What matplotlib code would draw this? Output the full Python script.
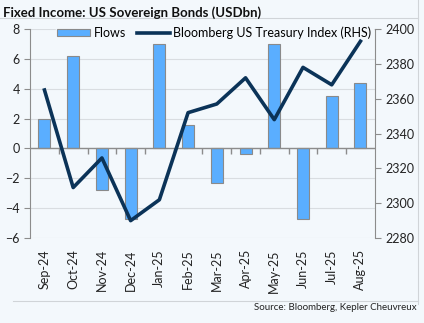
import numpy as np
import matplotlib.pyplot as plt
from matplotlib.lines import Line2D

plt.rcParams['font.family'] = ['Lato', 'DejaVu Sans']

# --- data ---
months = ["Sep-24", "Oct-24", "Nov-24", "Dec-24", "Jan-25", "Feb-25",
          "Mar-25", "Apr-25", "May-25", "Jun-25", "Jul-25", "Aug-25"]
flows = [2.0, 6.2, -2.8, -4.7, 7.0, 1.6, -2.3, -0.4, 7.0, -4.7, 3.5, 4.4]
index_rhs = [2365, 2309, 2326, 2290, 2302, 2352, 2357, 2372, 2348, 2378, 2368, 2393]

BG = '#F3F8FC'
BAR = '#5AAEFF'
NAVY = '#0B3358'
GRID = '#D9DDE1'
AXC = '#8C8C8C'

fig = plt.figure(figsize=(4.24, 3.23), dpi=100, facecolor=BG)
ax = fig.add_axes([0.071, 0.263, 0.813, 0.647], facecolor=BG)
x = np.arange(len(months))

ax.bar(x, flows, width=0.42, color=BAR, edgecolor='#8A8A8A', linewidth=0.8, zorder=3)
ax.set_xlim(-0.5, len(months) - 0.5)
ax.set_ylim(-6, 8)
ax.set_yticks(np.arange(-6, 9, 2))
ax.grid(axis='y', color=GRID, linewidth=0.8, zorder=0)
ax.axhline(0, color=AXC, linewidth=1.0, zorder=4)
ax.vlines(x[:-1] + 0.5, -0.35, 0, color=AXC, linewidth=1.0, zorder=4)

ax.set_xticks(x)
ax.set_xticklabels(months, rotation=90, fontsize=9, color='#222222')
ax.tick_params(axis='x', length=0, pad=8)
ax.tick_params(axis='y', labelsize=9, colors='#222222', length=4, color=AXC)
for s in ['top', 'right', 'bottom']:
    ax.spines[s].set_visible(False)
ax.spines['left'].set_color(AXC)

ax2 = ax.twinx()
ax2.plot(x, index_rhs, color=NAVY, linewidth=2.6, zorder=11)
ax2.set_ylim(2280, 2400)
ax2.set_yticks(np.arange(2280, 2401, 20))
ax2.tick_params(axis='y', labelsize=9, colors='#222222', length=4, color=AXC)
for s in ['top', 'left', 'bottom']:
    ax2.spines[s].set_visible(False)
ax2.spines['right'].set_color(AXC)

handles = [plt.Rectangle((0, 0), 1, 1, facecolor=BAR, edgecolor='#8A8A8A', linewidth=0.8),
           Line2D([0], [0], color=NAVY, linewidth=2.6)]
leg = ax2.legend(handles, ['Flows', 'Bloomberg US Treasury Index (RHS)'],
                 loc='upper center', bbox_to_anchor=(0.535, 1.05), ncol=2,
                 frameon=True, fontsize=9, handlelength=2.6, handleheight=0.5,
                 columnspacing=0.9, handletextpad=0.3, borderpad=0.15)
leg.get_frame().set_facecolor(BG)
leg.get_frame().set_edgecolor(BG)
leg.get_frame().set_alpha(1)
leg.set_zorder(10)

fig.text(0.008, 0.962, 'Fixed Income: US Sovereign Bonds (USDbn)', fontsize=9.5,
         fontweight='bold', color='#111111', va='center', ha='left')
fig.add_artist(Line2D([0, 0.985], [0.945, 0.945], color='#D0D4D8', linewidth=0.8))
fig.add_artist(Line2D([0.985, 0.985], [0.06, 1.0], color='#D0D4D8', linewidth=0.8))
fig.add_artist(Line2D([0.03, 0.985], [0.068, 0.068], color='#D0D4D8', linewidth=0.8))
fig.text(0.982, 0.047, 'Source: Bloomberg, Kepler Cheuvreux', fontsize=7,
         color='#222222', ha='right', va='center')

fig.savefig('out.png', dpi=100, facecolor=BG)
